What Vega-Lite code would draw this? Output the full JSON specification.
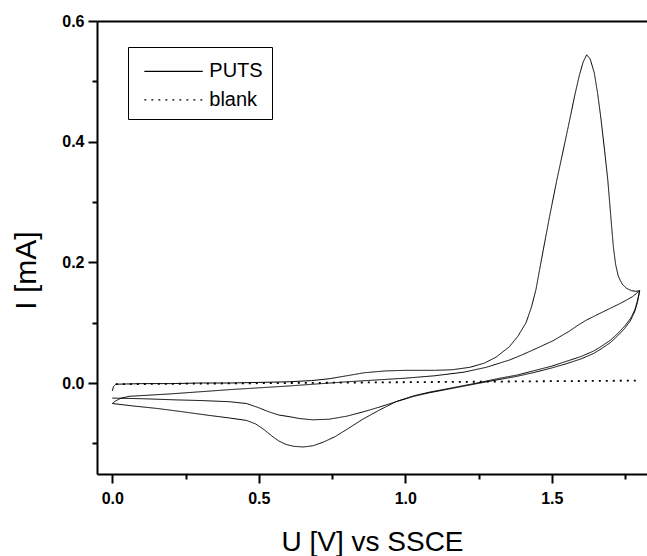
{
  "$schema": "https://vega.github.io/schema/vega-lite/v6.json",
  "autosize": "none",
  "padding": {"left": 97, "top": 21, "right": 0, "bottom": 82},
  "width": 550,
  "height": 453,
  "background": "white",
  "config": {
    "view": {"stroke": null},
    "font": "Liberation Sans",
    "axis": {
      "domainColor": "black", "domainWidth": 2, "tickColor": "black", "tickWidth": 2,
      "labelFont": "Liberation Sans", "labelFontWeight": "bold", "labelFontSize": 16, "labelColor": "black",
      "titleFont": "Liberation Sans", "titleFontWeight": "normal", "titleColor": "black", "grid": false
    }
  },
  "datasets": {
    "cv": [
      {"series":"PUTS","n":0,"U":0.000,"I":-0.013},{"series":"PUTS","n":1,"U":0.004,"I":-0.006},{"series":"PUTS","n":2,"U":0.012,"I":-0.002},{"series":"PUTS","n":3,"U":0.1,"I":-0.001},{"series":"PUTS","n":4,"U":0.2,"I":-0.001},{"series":"PUTS","n":5,"U":0.3,"I":0.000},{"series":"PUTS","n":6,"U":0.4,"I":0.000},{"series":"PUTS","n":7,"U":0.5,"I":0.001},{"series":"PUTS","n":8,"U":0.6,"I":0.002},{"series":"PUTS","n":9,"U":0.68,"I":0.004},{"series":"PUTS","n":10,"U":0.74,"I":0.007},{"series":"PUTS","n":11,"U":0.8,"I":0.012},{"series":"PUTS","n":12,"U":0.86,"I":0.017},{"series":"PUTS","n":13,"U":0.93,"I":0.020},{"series":"PUTS","n":14,"U":1.0,"I":0.021},{"series":"PUTS","n":15,"U":1.1,"I":0.021},{"series":"PUTS","n":16,"U":1.16,"I":0.022},{"series":"PUTS","n":17,"U":1.22,"I":0.026},{"series":"PUTS","n":18,"U":1.27,"I":0.033},{"series":"PUTS","n":19,"U":1.31,"I":0.043},{"series":"PUTS","n":20,"U":1.355,"I":0.060},{"series":"PUTS","n":21,"U":1.385,"I":0.078},{"series":"PUTS","n":22,"U":1.412,"I":0.100},{"series":"PUTS","n":23,"U":1.43,"I":0.125},{"series":"PUTS","n":24,"U":1.446,"I":0.155},{"series":"PUTS","n":25,"U":1.458,"I":0.187},{"series":"PUTS","n":26,"U":1.471,"I":0.221},{"series":"PUTS","n":27,"U":1.494,"I":0.280},{"series":"PUTS","n":28,"U":1.517,"I":0.336},{"series":"PUTS","n":29,"U":1.54,"I":0.388},{"series":"PUTS","n":30,"U":1.561,"I":0.436},{"series":"PUTS","n":31,"U":1.578,"I":0.476},{"series":"PUTS","n":32,"U":1.594,"I":0.510},{"series":"PUTS","n":33,"U":1.607,"I":0.532},{"series":"PUTS","n":34,"U":1.619,"I":0.544},{"series":"PUTS","n":35,"U":1.631,"I":0.537},{"series":"PUTS","n":36,"U":1.645,"I":0.514},{"series":"PUTS","n":37,"U":1.657,"I":0.478},{"series":"PUTS","n":38,"U":1.668,"I":0.437},{"series":"PUTS","n":39,"U":1.68,"I":0.386},{"series":"PUTS","n":40,"U":1.691,"I":0.337},{"series":"PUTS","n":41,"U":1.701,"I":0.278},{"series":"PUTS","n":42,"U":1.71,"I":0.226},{"series":"PUTS","n":43,"U":1.718,"I":0.196},{"series":"PUTS","n":44,"U":1.727,"I":0.177},{"series":"PUTS","n":45,"U":1.74,"I":0.164},{"series":"PUTS","n":46,"U":1.755,"I":0.157},{"series":"PUTS","n":47,"U":1.772,"I":0.153},{"series":"PUTS","n":48,"U":1.787,"I":0.152},{"series":"PUTS","n":49,"U":1.8,"I":0.153},
      {"series":"PUTS","n":50,"U":1.793,"I":0.138},{"series":"PUTS","n":51,"U":1.784,"I":0.122},{"series":"PUTS","n":52,"U":1.77,"I":0.108},{"series":"PUTS","n":53,"U":1.75,"I":0.095},{"series":"PUTS","n":54,"U":1.725,"I":0.082},{"series":"PUTS","n":55,"U":1.7,"I":0.071},{"series":"PUTS","n":56,"U":1.67,"I":0.061},{"series":"PUTS","n":57,"U":1.643,"I":0.053},{"series":"PUTS","n":58,"U":1.6,"I":0.044},{"series":"PUTS","n":59,"U":1.55,"I":0.036},{"series":"PUTS","n":60,"U":1.5,"I":0.028},{"series":"PUTS","n":61,"U":1.436,"I":0.020},{"series":"PUTS","n":62,"U":1.38,"I":0.013},{"series":"PUTS","n":63,"U":1.323,"I":0.008},{"series":"PUTS","n":64,"U":1.245,"I":0.000},{"series":"PUTS","n":65,"U":1.17,"I":-0.007},{"series":"PUTS","n":66,"U":1.084,"I":-0.015},{"series":"PUTS","n":67,"U":1.03,"I":-0.021},{"series":"PUTS","n":68,"U":0.968,"I":-0.031},{"series":"PUTS","n":69,"U":0.911,"I":-0.045},{"series":"PUTS","n":70,"U":0.855,"I":-0.060},{"series":"PUTS","n":71,"U":0.8,"I":-0.077},{"series":"PUTS","n":72,"U":0.76,"I":-0.089},{"series":"PUTS","n":73,"U":0.72,"I":-0.098},{"series":"PUTS","n":74,"U":0.685,"I":-0.104},{"series":"PUTS","n":75,"U":0.652,"I":-0.106},{"series":"PUTS","n":76,"U":0.62,"I":-0.105},{"series":"PUTS","n":77,"U":0.594,"I":-0.102},{"series":"PUTS","n":78,"U":0.568,"I":-0.096},{"series":"PUTS","n":79,"U":0.545,"I":-0.088},{"series":"PUTS","n":80,"U":0.52,"I":-0.078},{"series":"PUTS","n":81,"U":0.49,"I":-0.068},{"series":"PUTS","n":82,"U":0.458,"I":-0.062},{"series":"PUTS","n":83,"U":0.4,"I":-0.058},{"series":"PUTS","n":84,"U":0.32,"I":-0.053},{"series":"PUTS","n":85,"U":0.23,"I":-0.047},{"series":"PUTS","n":86,"U":0.15,"I":-0.042},{"series":"PUTS","n":87,"U":0.07,"I":-0.038},{"series":"PUTS","n":88,"U":0.0,"I":-0.034},
      {"series":"PUTS","n":89,"U":0.01,"I":-0.030},{"series":"PUTS","n":90,"U":0.03,"I":-0.025},{"series":"PUTS","n":91,"U":0.06,"I":-0.022},{"series":"PUTS","n":92,"U":0.2,"I":-0.018},{"series":"PUTS","n":93,"U":0.4,"I":-0.011},{"series":"PUTS","n":94,"U":0.6,"I":-0.005},{"series":"PUTS","n":95,"U":0.8,"I":0.002},{"series":"PUTS","n":96,"U":1.0,"I":0.008},{"series":"PUTS","n":97,"U":1.1,"I":0.012},{"series":"PUTS","n":98,"U":1.2,"I":0.018},{"series":"PUTS","n":99,"U":1.276,"I":0.026},{"series":"PUTS","n":100,"U":1.355,"I":0.038},{"series":"PUTS","n":101,"U":1.4,"I":0.047},{"series":"PUTS","n":102,"U":1.446,"I":0.057},{"series":"PUTS","n":103,"U":1.504,"I":0.070},{"series":"PUTS","n":104,"U":1.56,"I":0.086},{"series":"PUTS","n":105,"U":1.59,"I":0.096},{"series":"PUTS","n":106,"U":1.617,"I":0.104},{"series":"PUTS","n":107,"U":1.65,"I":0.112},{"series":"PUTS","n":108,"U":1.696,"I":0.123},{"series":"PUTS","n":109,"U":1.73,"I":0.131},{"series":"PUTS","n":110,"U":1.753,"I":0.137},{"series":"PUTS","n":111,"U":1.775,"I":0.143},{"series":"PUTS","n":112,"U":1.8,"I":0.153},
      {"series":"PUTS","n":113,"U":1.792,"I":0.133},{"series":"PUTS","n":114,"U":1.782,"I":0.117},{"series":"PUTS","n":115,"U":1.768,"I":0.103},{"series":"PUTS","n":116,"U":1.748,"I":0.090},{"series":"PUTS","n":117,"U":1.722,"I":0.077},{"series":"PUTS","n":118,"U":1.7,"I":0.067},{"series":"PUTS","n":119,"U":1.67,"I":0.057},{"series":"PUTS","n":120,"U":1.643,"I":0.049},{"series":"PUTS","n":121,"U":1.6,"I":0.040},{"series":"PUTS","n":122,"U":1.55,"I":0.032},{"series":"PUTS","n":123,"U":1.5,"I":0.025},{"series":"PUTS","n":124,"U":1.436,"I":0.017},{"series":"PUTS","n":125,"U":1.38,"I":0.011},{"series":"PUTS","n":126,"U":1.323,"I":0.006},{"series":"PUTS","n":127,"U":1.245,"I":-0.001},{"series":"PUTS","n":128,"U":1.17,"I":-0.008},{"series":"PUTS","n":129,"U":1.084,"I":-0.016},{"series":"PUTS","n":130,"U":1.03,"I":-0.022},{"series":"PUTS","n":131,"U":0.968,"I":-0.031},{"series":"PUTS","n":132,"U":0.911,"I":-0.040},{"series":"PUTS","n":133,"U":0.855,"I":-0.048},{"series":"PUTS","n":134,"U":0.8,"I":-0.055},{"series":"PUTS","n":135,"U":0.74,"I":-0.060},{"series":"PUTS","n":136,"U":0.684,"I":-0.061},{"series":"PUTS","n":137,"U":0.64,"I":-0.059},{"series":"PUTS","n":138,"U":0.607,"I":-0.056},{"series":"PUTS","n":139,"U":0.568,"I":-0.053},{"series":"PUTS","n":140,"U":0.53,"I":-0.047},{"series":"PUTS","n":141,"U":0.5,"I":-0.041},{"series":"PUTS","n":142,"U":0.458,"I":-0.034},{"series":"PUTS","n":143,"U":0.4,"I":-0.031},{"series":"PUTS","n":144,"U":0.3,"I":-0.029},{"series":"PUTS","n":145,"U":0.22,"I":-0.028},{"series":"PUTS","n":146,"U":0.1,"I":-0.026},{"series":"PUTS","n":147,"U":0.0,"I":-0.025},
      {"series":"blank","n":0,"U":0.012,"I":-0.002},{"series":"blank","n":1,"U":0.3,"I":-0.001},{"series":"blank","n":2,"U":0.6,"I":0.0},{"series":"blank","n":3,"U":0.9,"I":0.001},{"series":"blank","n":4,"U":1.2,"I":0.002},{"series":"blank","n":5,"U":1.5,"I":0.003},{"series":"blank","n":6,"U":1.8,"I":0.004}
    ]
  },
  "data": {"name": "cv"},
  "layer": [
    {
      "transform": [{"filter": "datum.series == 'PUTS'"}],
      "mark": {"type": "line", "color": "black", "strokeWidth": 1, "clip": true},
      "encoding": {
        "x": {"field": "U", "type": "quantitative", "scale": {"domain": [-0.0522, 1.8249], "nice": false, "zero": false},
          "axis": {"orient": "bottom", "title": "U [V] vs SSCE", "titleFontSize": 28, "titlePadding": 22,
            "values": [0, 0.25, 0.5, 0.75, 1, 1.25, 1.5, 1.75], "format": ".1f",
            "labelExpr": "abs(datum.value*2 - round(datum.value*2)) < 0.001 ? datum.label : ''",
            "tickSize": {"condition": {"test": "abs(datum.value*2 - round(datum.value*2)) < 0.001", "value": 9}, "value": 5},
            "labelPadding": 7, "labelFlush": false, "labelOverlap": false}},
        "y": {"field": "I", "type": "quantitative", "scale": {"domain": [-0.1508, 0.6], "nice": false, "zero": false},
          "axis": {"title": "I [mA]", "titleFontSize": 30, "titlePadding": 20, "titleY": 249,
            "values": [-0.1, 0, 0.1, 0.2, 0.3, 0.4, 0.5, 0.6], "format": ".1f",
            "labelExpr": "abs(datum.value*5 - round(datum.value*5)) < 0.001 ? datum.label : ''",
            "tickSize": {"condition": {"test": "abs(datum.value*5 - round(datum.value*5)) < 0.001", "value": 9}, "value": 5},
            "labelPadding": 4, "labelFlush": false, "labelOverlap": false}},
        "order": {"field": "n", "type": "quantitative"},
        "strokeDash": {"field": "series", "type": "nominal",
          "scale": {"domain": ["PUTS", "blank"], "range": [[1, 0], [2, 5]]},
          "legend": {"orient": "none", "legendX": 31, "legendY": 26, "title": null,
            "strokeColor": "black", "padding": 8.8, "fillColor": "white",
            "symbolType": "M-0.55,0H3.48", "symbolSize": 841, "symbolStrokeColor": "black", "symbolStrokeWidth": 1.2,
            "labelFont": "Liberation Sans", "labelFontSize": 20, "labelColor": "black", "labelOffset": 41.5,
            "rowPadding": 2.5}}
      }
    },
    {
      "transform": [{"filter": "datum.series == 'blank'"}],
      "mark": {"type": "line", "color": "black", "strokeWidth": 1.8, "clip": true},
      "encoding": {
        "x": {"field": "U", "type": "quantitative", "scale": {"domain": [-0.0522, 1.8249], "nice": false, "zero": false},
          "axis": {"orient": "top", "labels": false, "ticks": false, "title": null, "domainWidth": 2}},
        "y": {"field": "I", "type": "quantitative"},
        "order": {"field": "n", "type": "quantitative"},
        "strokeDash": {"field": "series", "type": "nominal"}
      }
    }
  ],
  "resolve": {"axis": {"x": "independent"}}
}
